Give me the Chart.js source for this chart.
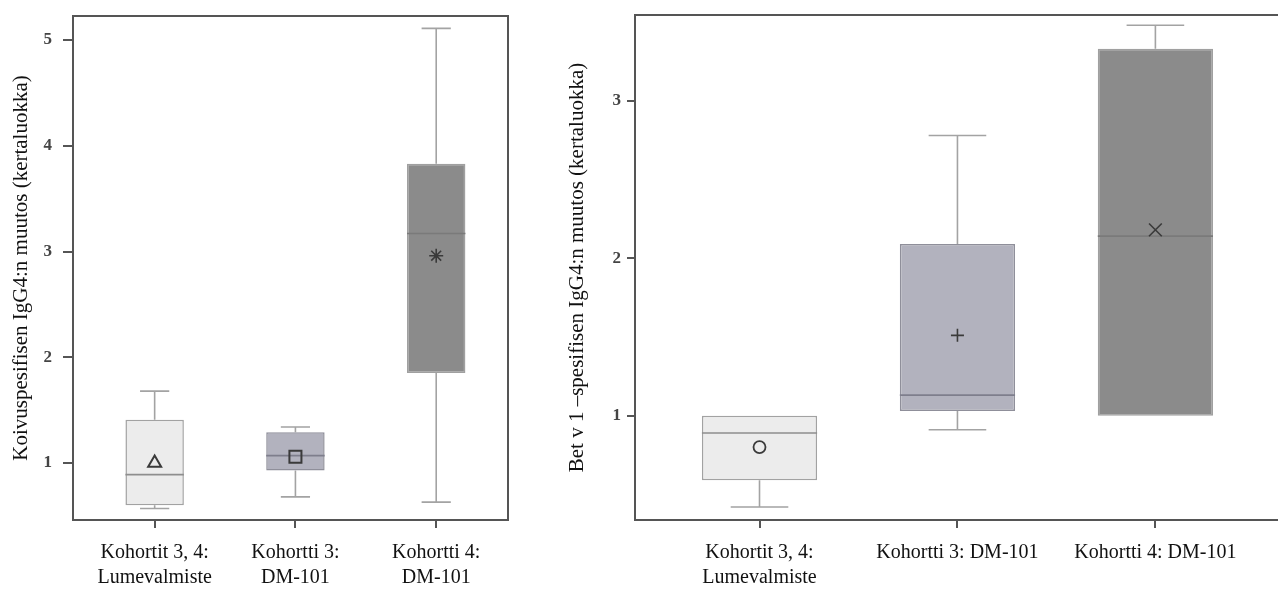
<!DOCTYPE html>
<html>
<head>
<meta charset="utf-8">
<script src="https://cdn.jsdelivr.net/npm/chart.js@4/dist/chart.umd.min.js"></script>
<style>
  html, body { margin: 0; padding: 0; background: #fff; overflow: hidden; width: 1278px; height: 590px; }
  #wrapL { position: absolute; left: 0; top: 0; width: 545px; height: 590px; }
  #wrapR { position: absolute; left: 545px; top: 0; width: 760px; height: 590px; }
</style>
</head>
<body>
<div id="wrapL"><canvas id="birch" width="545" height="590"></canvas></div>
<div id="wrapR"><canvas id="betv1" width="760" height="590"></canvas></div>
<script>
// Group labels (x axis)
const birchGroups = [["Kohortit 3, 4:", "Lumevalmiste"], ["Kohortti 3:", "DM-101"], ["Kohortti 4:", "DM-101"]];
const betGroups = [["Kohortit 3, 4:", "Lumevalmiste"], "Kohortti 3: DM-101", "Kohortti 4: DM-101"];

// Birch-specific IgG4 fold change: five-number summaries and means
const birchMin    = [0.57, 0.68, 0.63];
const birchQ1     = [0.60, 0.93, 1.85];
const birchMedian = [0.89, 1.07, 3.17];
const birchQ3     = [1.41, 1.29, 3.83];
const birchMax    = [1.68, 1.34, 5.11];
const birchMean   = [1.00, 1.06, 2.96];

// Bet v 1-specific IgG4 fold change
const betMin    = [0.42, 0.91, 1.00];
const betQ1     = [0.59, 1.03, 1.00];
const betMedian = [0.89, 1.13, 2.14];
const betQ3     = [1.00, 2.09, 3.33];
const betMax    = [1.00, 2.78, 3.48];
const betMean   = [0.80, 1.51, 2.18];

// Axis tick values
const birchYTicks = [1, 2, 3, 4, 5];
const betYTicks = [1, 2, 3];
const groupTicks = [0, 1, 2];

const SERIF = '"Liberation Serif", "DejaVu Serif", serif';
const boxFill   = ['#ececec', '#b2b2be', '#8b8b8b'];
const boxEdge   = ['#a2a2a2', '#8f8f9a', '#a0a0a0'];
const medianCol = ['#8e8e8e', '#7e7e8c', '#7a7a7a'];

// Whiskers, caps, medians and the plot frame, placed through the chart scales
const boxPlotParts = {
  id: 'boxPlotParts',
  beforeDatasetsDraw(chart, args, o) {
    const xs = chart.scales.x, ys = chart.scales.y, ctx = chart.ctx;
    const barMeta = chart.getDatasetMeta(1);
    ctx.save();
    ctx.strokeStyle = o.whiskerColor;
    ctx.lineWidth = 1.6;
    o.min.forEach((_, i) => {
      const x = xs.getPixelForValue(i);
      const cap = barMeta.data[i].width / 4;
      const yMax = ys.getPixelForValue(o.max[i]), yQ3 = ys.getPixelForValue(o.q3[i]);
      const yMin = ys.getPixelForValue(o.min[i]), yQ1 = ys.getPixelForValue(o.q1[i]);
      ctx.beginPath();
      if (o.max[i] > o.q3[i]) {
        ctx.moveTo(x, yQ3); ctx.lineTo(x, yMax);
        ctx.moveTo(x - cap, yMax); ctx.lineTo(x + cap, yMax);
      }
      if (o.min[i] < o.q1[i]) {
        ctx.moveTo(x, yQ1); ctx.lineTo(x, yMin);
        ctx.moveTo(x - cap, yMin); ctx.lineTo(x + cap, yMin);
      }
      ctx.stroke();
    });
    ctx.restore();
  },
  afterDatasetDraw(chart, args, o) {
    if (args.index !== 1) return;
    const ys = chart.scales.y, ctx = chart.ctx;
    ctx.save();
    ctx.lineWidth = 1.6;
    args.meta.data.forEach((bar, i) => {
      const y = ys.getPixelForValue(o.median[i]);
      ctx.strokeStyle = medianCol[i];
      ctx.beginPath();
      ctx.moveTo(bar.x - bar.width / 2, y);
      ctx.lineTo(bar.x + bar.width / 2, y);
      ctx.stroke();
    });
    ctx.restore();
  },
  afterDraw(chart) {
    const a = chart.chartArea, ctx = chart.ctx;
    ctx.save();
    ctx.strokeStyle = '#555';
    ctx.lineWidth = 2;
    ctx.strokeRect(a.left, a.top, a.right - a.left, a.bottom - a.top);
    ctx.restore();
  }
};

function makeChart(id, cfg) {
  return new Chart(document.getElementById(id), {
    type: 'bar',
    data: {
      datasets: [
        {
          type: 'scatter',
          data: cfg.mean.map((v, i) => ({ x: i, y: v })),
          pointStyle: cfg.markers,
          pointRadius: cfg.markerRadius,
          pointBorderColor: '#3a3a3a',
          pointBorderWidth: cfg.markerWidth,
          pointBackgroundColor: 'rgba(0,0,0,0)'
        },
        {
          type: 'bar',
          data: cfg.q1.map((v, i) => ({ x: i, y: [v, cfg.q3[i]] })),
          backgroundColor: boxFill,
          borderColor: boxEdge,
          borderWidth: 1.5,
          borderSkipped: false,
          barPercentage: 1,
          categoryPercentage: cfg.boxWidth
        }
      ]
    },
    options: {
      responsive: false,
      animation: false,
      events: [],
      layout: { padding: { top: cfg.padTop, right: cfg.padRight, left: 0, bottom: 0 } },
      plugins: {
        legend: { display: false },
        tooltip: { enabled: false },
        boxPlotParts: {
          min: cfg.min, q1: cfg.q1, median: cfg.median, q3: cfg.q3, max: cfg.max,
          whiskerColor: '#a3a3a3'
        }
      },
      scales: {
        x: {
          type: 'linear',
          offset: false,
          min: cfg.xMin, max: cfg.xMax,
          afterBuildTicks: s => { s.ticks = groupTicks.map(v => ({ value: v })); },
          afterFit: s => { s.height = 70; },
          grid: { offset: false, drawOnChartArea: false, drawTicks: true, tickLength: 8, color: '#555', lineWidth: 2 },
          border: { display: true, color: '#555', width: 2 },
          ticks: {
            autoSkip: false, maxRotation: 0, padding: 12,
            color: '#111',
            font: { family: SERIF, size: 20, lineHeight: 1.25 },
            callback: v => cfg.groups[v]
          }
        },
        y: {
          type: 'linear',
          min: cfg.yMin, max: cfg.yMax,
          afterBuildTicks: s => { s.ticks = cfg.yTicks.map(v => ({ value: v })); },
          afterFit: s => { s.width = cfg.yWidth; s.paddingTop = 0; s.paddingBottom = 0; },
          grid: { drawOnChartArea: false, drawTicks: true, tickLength: cfg.yTickLen, color: '#555', lineWidth: 2 },
          border: { display: true, color: '#555', width: 2 },
          ticks: {
            padding: cfg.yTickPad, color: '#444',
            font: { family: SERIF, size: 17, weight: 'bold' }
          },
          title: {
            display: true, text: cfg.title, color: '#111',
            font: { family: SERIF, size: 21, lineHeight: 1.2 },
            padding: { top: cfg.titlePad, bottom: 0 }
          }
        }
      }
    },
    plugins: [boxPlotParts]
  });
}

makeChart('birch', {
  groups: birchGroups,
  min: birchMin, q1: birchQ1, median: birchMedian, q3: birchQ3, max: birchMax, mean: birchMean,
  markers: ['triangle', 'rect', 'star'],
  markerRadius: [7.5, 8.5, 7],
  markerWidth: [2, 2, 1.6],
  boxWidth: 0.415,
  xMin: -0.58, xMax: 2.51,
  yMin: 0.461, yMax: 5.227,
  yTicks: birchYTicks,
  yWidth: 73, padTop: 16, padRight: 37, titlePad: 9,
  yTickLen: 10, yTickPad: 11,
  title: 'Koivuspesifisen IgG4:n muutos (kertaluokka)'
});

makeChart('betv1', {
  groups: betGroups,
  min: betMin, q1: betQ1, median: betMedian, q3: betQ3, max: betMax, mean: betMean,
  markers: ['circle', 'cross', 'crossRot'],
  markerRadius: [6, 6.5, 9],
  markerWidth: [1.8, 1.6, 1.6],
  boxWidth: 0.582,
  xMin: -0.629, xMax: 2.68,
  yMin: 0.337, yMax: 3.545,
  yTicks: betYTicks,
  yWidth: 90, padTop: 15, padRight: 15, titlePad: 20,
  yTickLen: 8, yTickPad: 6,
  title: 'Bet v 1 \u2013spesifisen IgG4:n muutos (kertaluokka)'
});
</script>
</body>
</html>
